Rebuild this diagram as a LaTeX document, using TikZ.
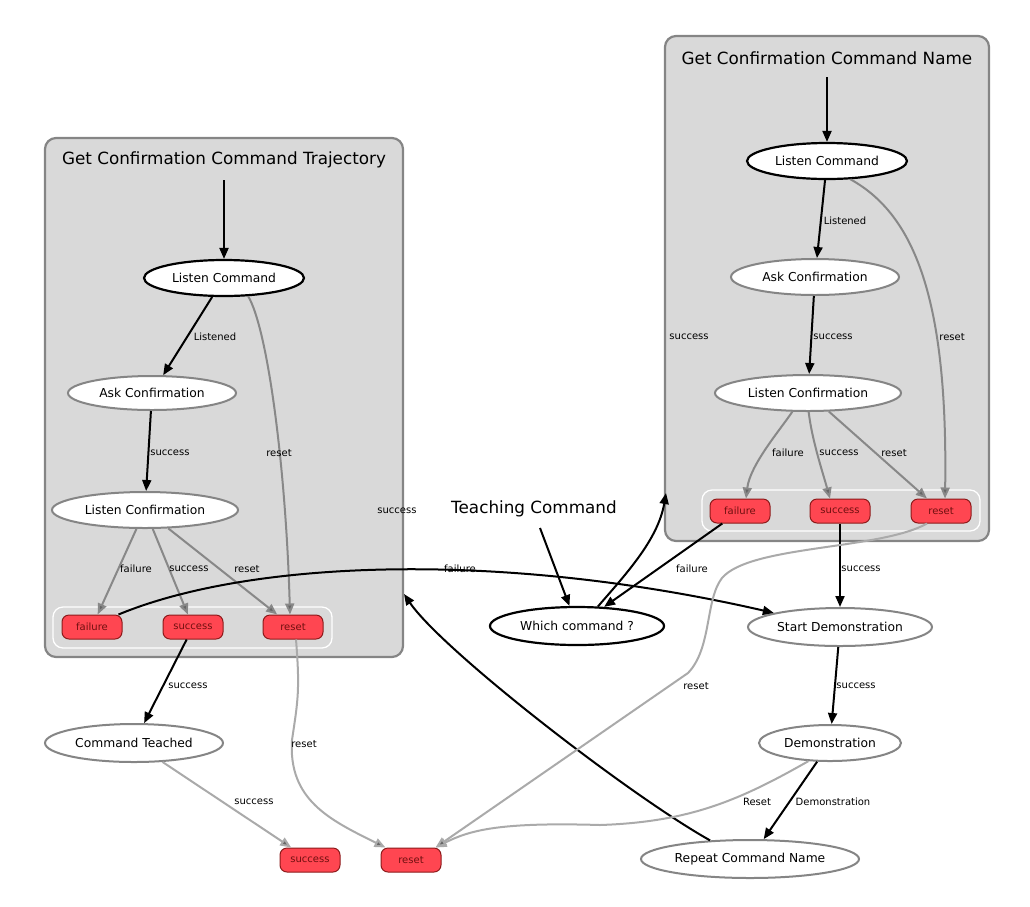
\documentclass[tikz,border=0pt]{standalone}
\usepackage{fontspec}
\setmainfont{DejaVu Sans}
\usetikzlibrary{shapes.geometric,arrows.meta}
\definecolor{clfill}{HTML}{D9D9D9}
\definecolor{clline}{HTML}{858585}
\definecolor{outfill}{HTML}{FF4651}
\definecolor{outline}{HTML}{8C1A1A}
\definecolor{outtext}{HTML}{701010}
\definecolor{edgegray}{HTML}{888888}
\definecolor{edgelight}{HTML}{AAAAAA}
\definecolor{tipgray}{HTML}{666666}
\begin{document}
\begin{tikzpicture}[x=1pt,y=-1pt,
 cluster/.style={draw=clline,line width=2.2pt,fill=clfill,rounded corners=11pt,inner sep=0pt},
 innerbox/.style={draw=white,line width=1.3pt,rounded corners=10pt,inner sep=0pt},
 title/.style={font=\fontsize{16.8}{19}\selectfont,inner sep=0pt},
 act/.style={ellipse,draw=black,line width=2.2pt,fill=white,inner sep=0pt,font=\fontsize{12.3}{14}\selectfont},
 st/.style={ellipse,draw=clline,line width=2pt,fill=white,inner sep=0pt,font=\fontsize{12.3}{14}\selectfont},
 outc/.style={rectangle,rounded corners=7pt,fill=outfill,draw=outline,line width=1pt,text=outtext,minimum width=60pt,minimum height=24pt,inner sep=0pt,font=\fontsize{10}{12}\selectfont},
 lbl/.style={font=\fontsize{10}{12}\selectfont,inner sep=0pt,text=black},
 blk/.style={draw=black,line width=2pt,-{Triangle[length=11pt,width=9pt]}},
 gry/.style={draw=edgegray,line width=2pt,-{Triangle[length=11pt,width=9pt,fill=tipgray]}},
 lgt/.style={draw=edgelight,line width=2pt,-{Triangle[length=11pt,width=9pt,fill=tipgray]}},
]
\useasboundingbox (0,0) rectangle (1030,906);

% ---------- left cluster ----------
\node[cluster,minimum width=358pt,minimum height=519pt] (c1) at (224,397.5) {};
\node[title] (t1) at (224,160) {Get Confirmation Command Trajectory};
\node[innerbox,minimum width=279pt,minimum height=41pt] (i1) at (192.5,627.5) {};
\node[act,minimum width=160pt,minimum height=36pt] (lc1) at (224,278) {Listen Command};
\node[st,minimum width=168pt,minimum height=34pt] (ac1) at (152,393) {Ask Confirmation};
\node[st,minimum width=186pt,minimum height=36pt] (lf1) at (145,510) {Listen Confirmation};
\node[outc] (f1) at (92,627) {failure};
\node[outc] (s1o) at (193,627) {success};
\node[outc] (r1) at (293,627) {reset};
\coordinate (e1) at (224,180);

% ---------- right cluster ----------
\node[cluster,minimum width=324pt,minimum height=505pt] (c2) at (827,288.5) {};
\node[title] (t2) at (827,58) {Get Confirmation Command Name};
\node[innerbox,minimum width=278pt,minimum height=41pt] (i2) at (841,510.5) {};
\node[act,minimum width=160pt,minimum height=36pt] (lc2) at (827,161) {Listen Command};
\node[st,minimum width=168pt,minimum height=36pt] (ac2) at (815,277) {Ask Confirmation};
\node[st,minimum width=186pt,minimum height=36pt] (lf2) at (808,393) {Listen Confirmation};
\node[outc] (f2) at (740,511) {failure};
\node[outc] (s2o) at (840,511) {success};
\node[outc] (r2) at (941,511) {reset};
\coordinate (e2) at (827,77);

% ---------- outside ----------
\node[title] (tc) at (534,509) {Teaching Command};
\node[act,minimum width=174pt,minimum height=38pt] (wc) at (577,626) {Which command ?};
\node[st,minimum width=184pt,minimum height=38pt] (sd) at (840,627) {Start Demonstration};
\node[st,minimum width=142pt,minimum height=36pt] (dm) at (830,743) {Demonstration};
\node[st,minimum width=218pt,minimum height=38pt] (rc) at (750,859) {Repeat Command Name};
\node[st,minimum width=178pt,minimum height=38pt] (ct) at (134,743) {Command Teached};
\node[outc] (bs) at (310,860) {success};
\node[outc] (br) at (411,860) {reset};
\coordinate (tcs) at (540,528);
\coordinate (c2in) at (666,493);
\coordinate (c1in) at (404,594);

% ---------- left cluster edges ----------
\draw[blk] (e1) -- (lc1);
\draw[blk] (lc1) -- (ac1) node[lbl] at (215,337) {Listened};
\draw[gry] (lc1.-37) .. controls (268,330) and (286,470) .. ([xshift=-3pt]r1.north) node[lbl] at (279,453) {reset};
\draw[blk] (ac1) -- (lf1) node[lbl] at (170,453) {success};
\draw[gry] (lf1) -- (f1) node[lbl] at (136,569) {failure};
\draw[gry] (lf1) -- (s1o) node[lbl] at (189,569) {success};
\draw[gry] (lf1) -- (r1) node[lbl] at (247,569) {reset};

% ---------- right cluster edges ----------
\draw[blk] (e2) -- (lc2);
\draw[blk] (lc2) -- (ac2) node[lbl] at (845,221) {Listened};
\draw[gry] (lc2.-38) .. controls (915,215) and (948,300) .. ([xshift=4pt]r2.north) node[lbl] at (952,337) {reset};
\draw[blk] (ac2) -- (lf2) node[lbl] at (833,337) {success};
\draw[gry] (lf2.-130) .. controls (780,430) and (750,465) .. ([xshift=6pt]f2.north) node[lbl] at (788,453) {failure};
\draw[gry] (lf2.-88) .. controls (812,440) and (822,470) .. ([xshift=-10pt]s2o.north) node[lbl] at (839,453) {success};
\draw[gry] (lf2) -- (r2) node[lbl] at (894,453) {reset};

% ---------- outside edges ----------
\draw[blk] (tcs) -- (wc);
\draw[blk] (wc.43.5) .. controls (625,575) and (658,540) .. (c2in) node[lbl] at (689,337) {success};
\draw[blk] (f2) -- (wc) node[lbl] at (692,569) {failure};
\draw[blk] ([xshift=-4pt]f1.north east) .. controls (250,560) and (500,550) .. (sd.168) node[lbl] at (460,569) {failure};
\draw[blk] (s2o) -- (sd) node[lbl] at (861,569) {success};
\draw[blk] (sd) -- (dm) node[lbl] at (856,686) {success};
\draw[blk] (dm) -- (rc) node[lbl] at (833,802) {Demonstration};
\draw[blk] (rc.155) .. controls (629,795) and (442,650) .. (c1in) node[lbl] at (397,511) {success};
\draw[blk] (s1o) -- (ct) node[lbl] at (188,686) {success};
\draw[lgt] (ct) -- (bs) node[lbl] at (254,802) {success};
\draw[lgt] ([xshift=3pt]r1.south) .. controls (300,690) and (298,700) .. (292,740)
   .. controls (288,800) and (330,820) .. ([xshift=5pt]br.north west) node[lbl] at (304,744) {reset};
\draw[lgt] (dm.-140) .. controls (740,800) and (690,822) .. (600,825)
   .. controls (500,822) and (470,830) .. ([xshift=-6pt]br.north east) node[lbl] at (757,802) {Reset};
\draw[lgt] ([xshift=-14pt]r2.south) .. controls (880,550) and (750,545) .. (722,578)
   .. controls (705,600) and (712,648) .. (688,673) -- ([xshift=-6pt]br.north east) node[lbl] at (696,686) {reset};
\end{tikzpicture}
\end{document}
